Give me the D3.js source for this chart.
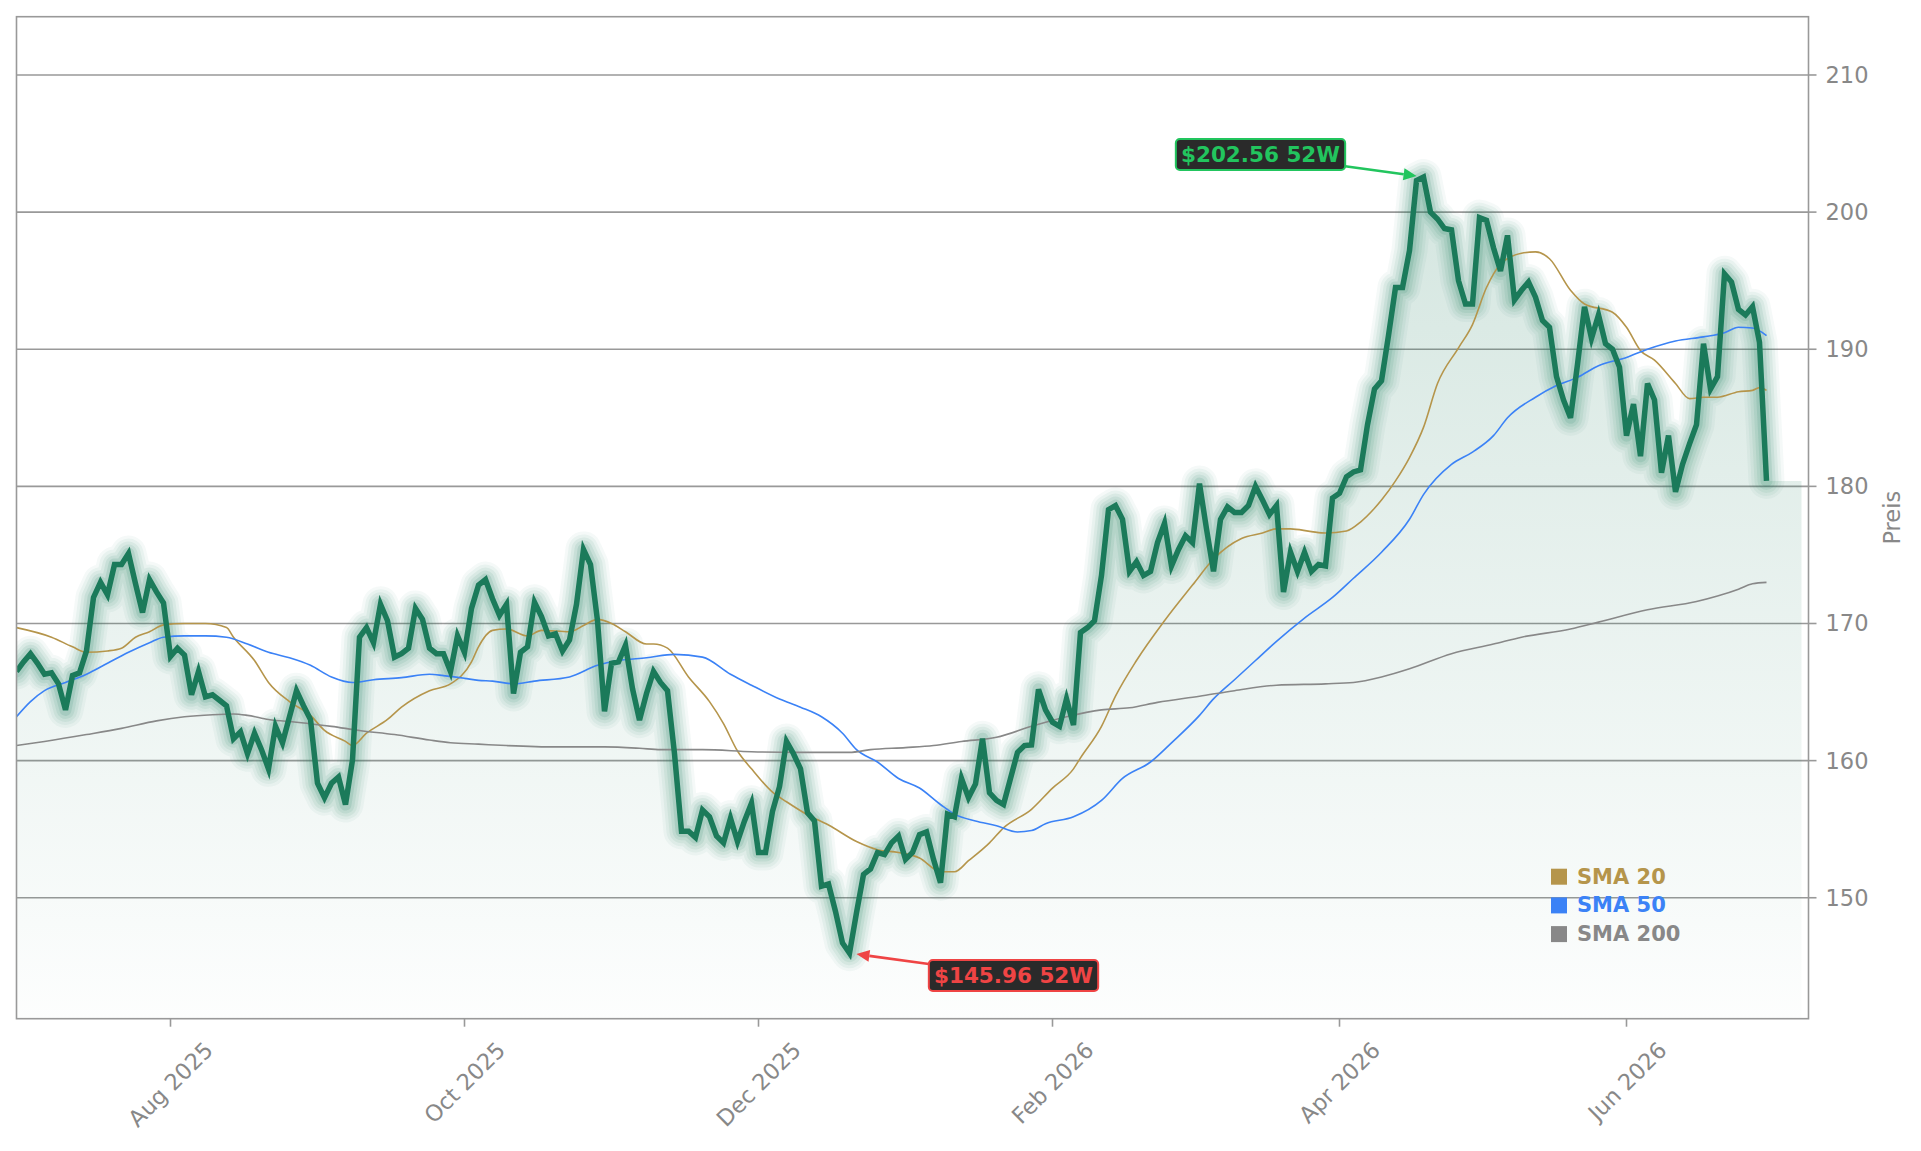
<!DOCTYPE html>
<html>
<head>
<meta charset="utf-8">
<script src="https://cdn.jsdelivr.net/npm/d3@7"></script>
<style>
  html, body { margin: 0; padding: 0; background: #fff; }
  svg { display: block; font-family: "DejaVu Sans", sans-serif; }
</style>
</head>
<body>
<div id="chart"></div>
<script>
// trading calendar
const firstDay = "2025-07-01", lastDay = "2026-06-30";
const holidays = ["2025-07-04", "2025-09-01", "2025-11-27", "2025-12-25", "2026-01-01",
                  "2026-01-19", "2026-02-16", "2026-04-03", "2026-05-25", "2026-06-19"];

// daily close, one value per trading day
const closes = [
  166.5, 167.2, 167.8, 167.1, 166.3, 166.4, 165.6, 163.7, 166.2, 166.4,
  168.0, 171.9, 173.0, 172.1, 174.3, 174.3, 175.1, 172.9, 170.8, 173.2,
  172.3, 171.5, 167.6, 168.2, 167.7, 164.8, 166.5, 164.65, 164.8, 164.4,
  164.0, 161.6, 162.1, 160.5, 162.0, 160.8, 159.4, 162.5, 161.3, 163.2,
  165.1, 164.0, 163.0, 158.35, 157.3, 158.35, 158.8, 156.8, 160.05, 169.0,
  169.7, 168.6, 171.4, 170.2, 167.55, 167.8, 168.2, 171.1, 170.3, 168.2,
  167.8, 167.8, 166.5, 169.1, 167.9, 171.1, 172.8, 173.2, 171.8, 170.6,
  171.4, 164.9, 167.9, 168.3, 171.55, 170.5, 169.1, 169.25, 168.0, 168.8,
  171.4, 175.4, 174.3, 170.2, 163.6, 167.1, 167.2, 168.4, 165.25, 162.95,
  164.9, 166.5, 165.7, 165.1, 160.5, 154.85, 154.85, 154.4, 156.4, 155.9,
  154.5, 154.0, 155.8, 154.1, 155.6, 156.9, 153.3, 153.3, 156.3, 158.1,
  161.4, 160.5, 159.4, 156.2, 155.6, 150.85, 151.0, 149.0, 146.7, 145.96,
  148.9, 151.7, 152.1, 153.3, 153.15, 154.0, 154.5, 152.8, 153.3, 154.6,
  154.8, 152.8, 151.1, 156.1, 155.9, 158.7, 157.3, 158.3, 161.6, 157.65,
  157.1, 156.8, 158.7, 160.6, 161.1, 161.15, 165.2, 163.7, 162.8, 162.5,
  164.5, 162.6, 169.35, 169.7, 170.2, 173.5, 178.3, 178.6, 177.6, 173.8,
  174.5, 173.5, 173.8, 175.9, 177.3, 174.2, 175.4, 176.4, 175.9, 180.2,
  176.9, 173.8, 177.6, 178.5, 178.1, 178.1, 178.6, 180.0, 179.0, 177.95,
  178.6, 172.3, 175.2, 173.8, 175.2, 173.8, 174.3, 174.2, 179.15, 179.5,
  180.7, 181.05, 181.2, 184.5, 187.1, 187.7, 191.0, 194.5, 194.5, 197.2,
  202.3, 202.56, 200.0, 199.5, 198.8, 198.7, 195.0, 193.3, 193.3, 199.6,
  199.4, 197.4, 195.7, 198.3, 193.6, 194.3, 194.9, 193.8, 192.1, 191.6,
  188.0, 186.3, 185.0, 188.9, 193.1, 190.8, 192.5, 190.4, 190.0, 188.7,
  183.7, 186.0, 182.2, 187.5, 186.3, 181.0, 183.7, 179.6, 181.6, 183.1,
  184.5, 190.4, 187.1, 188.0, 195.5, 194.9, 192.9, 192.5, 193.1, 190.5,
  180.4
];

// moving averages, sampled along the line
const sma20 = [
  ["2025-07-01", 169.7], ["2025-07-09", 169.0], ["2025-07-14", 168.3], ["2025-07-16", 167.9],
  ["2025-07-21", 168.0], ["2025-07-23", 168.2], ["2025-07-25", 169.0], ["2025-07-29", 169.4],
  ["2025-07-31", 169.9], ["2025-08-05", 170.0], ["2025-08-08", 170.0], ["2025-08-13", 169.7],
  ["2025-08-14", 169.0], ["2025-08-19", 167.3], ["2025-08-21", 165.7], ["2025-08-26", 164.3],
  ["2025-08-29", 163.3], ["2025-09-03", 162.2], ["2025-09-08", 161.4], ["2025-09-09", 161.1],
  ["2025-09-11", 162.0], ["2025-09-16", 163.0], ["2025-09-18", 163.9], ["2025-09-24", 165.1],
  ["2025-09-29", 165.6], ["2025-10-02", 167.2], ["2025-10-03", 168.3], ["2025-10-07", 169.5],
  ["2025-10-09", 169.6], ["2025-10-14", 169.1], ["2025-10-16", 169.5], ["2025-10-22", 169.4],
  ["2025-10-24", 169.85], ["2025-10-28", 170.3], ["2025-10-30", 170.0], ["2025-11-03", 169.4],
  ["2025-11-06", 168.5], ["2025-11-07", 168.5], ["2025-11-11", 168.2], ["2025-11-14", 166.1],
  ["2025-11-19", 164.3], ["2025-11-21", 162.7], ["2025-11-25", 160.7], ["2025-11-28", 159.4],
  ["2025-12-03", 157.7], ["2025-12-05", 157.0], ["2025-12-10", 156.05], ["2025-12-15", 155.3],
  ["2025-12-19", 154.1], ["2025-12-24", 153.5], ["2025-12-30", 153.3], ["2026-01-05", 152.9],
  ["2026-01-08", 151.9], ["2026-01-12", 151.9], ["2026-01-14", 152.7], ["2026-01-20", 154.0],
  ["2026-01-22", 155.1], ["2026-01-28", 156.45], ["2026-02-02", 158.0], ["2026-02-05", 159.4],
  ["2026-02-06", 160.2], ["2026-02-11", 162.5], ["2026-02-13", 164.7], ["2026-02-19", 167.3],
  ["2026-02-25", 170.2], ["2026-03-03", 172.8], ["2026-03-06", 174.7], ["2026-03-12", 176.2],
  ["2026-03-17", 176.6], ["2026-03-19", 176.9], ["2026-03-23", 176.9], ["2026-03-26", 176.7],
  ["2026-03-30", 176.6], ["2026-04-02", 176.75], ["2026-04-07", 177.4], ["2026-04-09", 178.4],
  ["2026-04-10", 179.0], ["2026-04-14", 180.4], ["2026-04-16", 182.1], ["2026-04-20", 184.3],
  ["2026-04-22", 187.5], ["2026-04-27", 190.1], ["2026-04-29", 191.8], ["2026-05-01", 194.5],
  ["2026-05-05", 196.2], ["2026-05-08", 197.0], ["2026-05-12", 197.1], ["2026-05-14", 196.6],
  ["2026-05-19", 194.3], ["2026-05-21", 193.3], ["2026-05-28", 192.7], ["2026-06-01", 191.6],
  ["2026-06-03", 189.9], ["2026-06-05", 189.2], ["2026-06-10", 187.5], ["2026-06-12", 186.4],
  ["2026-06-16", 186.5], ["2026-06-18", 186.5], ["2026-06-24", 186.9], ["2026-06-26", 187.0],
  ["2026-06-29", 187.2], ["2026-06-30", 187.0]
];
const sma50 = [
  ["2025-07-01", 163.2], ["2025-07-03", 164.3], ["2025-07-08", 165.1], ["2025-07-11", 165.7],
  ["2025-07-16", 166.3], ["2025-07-21", 167.1], ["2025-07-24", 167.9], ["2025-07-29", 168.6],
  ["2025-07-31", 169.0], ["2025-08-05", 169.1], ["2025-08-08", 169.1], ["2025-08-13", 169.0],
  ["2025-08-18", 168.5], ["2025-08-21", 167.9], ["2025-08-26", 167.5], ["2025-08-29", 166.95],
  ["2025-09-04", 166.1], ["2025-09-09", 165.7], ["2025-09-12", 165.9], ["2025-09-18", 166.05],
  ["2025-09-24", 166.3], ["2025-09-26", 166.2], ["2025-10-01", 166.0], ["2025-10-03", 165.85],
  ["2025-10-07", 165.8], ["2025-10-10", 165.6], ["2025-10-15", 165.8], ["2025-10-22", 166.1],
  ["2025-10-28", 166.95], ["2025-10-31", 167.3], ["2025-11-06", 167.5], ["2025-11-12", 167.75],
  ["2025-11-18", 167.55], ["2025-11-24", 166.3], ["2025-11-28", 165.5], ["2025-12-04", 164.5],
  ["2025-12-09", 163.9], ["2025-12-12", 163.2], ["2025-12-17", 162.0], ["2025-12-19", 160.8],
  ["2025-12-24", 159.9], ["2025-12-30", 158.7], ["2026-01-05", 158.0], ["2026-01-08", 156.8],
  ["2026-01-12", 156.1], ["2026-01-15", 155.6], ["2026-01-21", 155.25], ["2026-01-26", 154.8],
  ["2026-01-28", 154.9], ["2026-01-30", 155.4], ["2026-02-05", 155.9], ["2026-02-11", 157.1],
  ["2026-02-17", 158.7], ["2026-02-23", 159.9], ["2026-02-26", 161.3], ["2026-03-04", 163.3],
  ["2026-03-06", 164.5], ["2026-03-11", 165.9], ["2026-03-16", 167.3], ["2026-03-19", 168.7],
  ["2026-03-25", 170.4], ["2026-03-31", 171.9], ["2026-04-06", 173.3], ["2026-04-10", 175.2],
  ["2026-04-16", 177.6], ["2026-04-20", 179.4], ["2026-04-24", 181.6], ["2026-04-29", 182.5],
  ["2026-05-04", 183.7], ["2026-05-06", 185.0], ["2026-05-12", 186.5], ["2026-05-15", 187.35],
  ["2026-05-20", 187.95], ["2026-05-26", 188.8], ["2026-06-01", 189.4], ["2026-06-04", 190.0],
  ["2026-06-10", 190.6], ["2026-06-16", 190.9], ["2026-06-22", 191.2], ["2026-06-24", 191.6],
  ["2026-06-26", 191.55], ["2026-06-30", 191.0]
];
const sma200 = [
  ["2025-07-01", 161.1], ["2025-07-08", 161.4], ["2025-07-16", 161.9], ["2025-07-23", 162.35],
  ["2025-07-30", 162.9], ["2025-08-05", 163.2], ["2025-08-11", 163.35], ["2025-08-14", 163.4],
  ["2025-08-18", 163.3], ["2025-08-21", 163.0], ["2025-08-27", 162.8], ["2025-09-04", 162.5],
  ["2025-09-10", 162.2], ["2025-09-17", 161.9], ["2025-09-24", 161.5], ["2025-09-29", 161.3],
  ["2025-10-03", 161.2], ["2025-10-09", 161.1], ["2025-10-20", 161.0], ["2025-10-29", 161.0],
  ["2025-11-05", 160.9], ["2025-11-10", 160.8], ["2025-11-18", 160.8], ["2025-11-28", 160.65],
  ["2025-12-09", 160.6], ["2025-12-18", 160.6], ["2025-12-23", 160.8], ["2025-12-31", 160.95],
  ["2026-01-07", 161.1], ["2026-01-13", 161.4], ["2026-01-21", 161.7], ["2026-01-28", 162.5],
  ["2026-02-04", 163.2], ["2026-02-11", 163.7], ["2026-02-18", 163.85], ["2026-02-24", 164.25],
  ["2026-03-04", 164.7], ["2026-03-11", 165.1], ["2026-03-19", 165.5], ["2026-03-30", 165.6],
  ["2026-04-06", 165.7], ["2026-04-10", 166.1], ["2026-04-16", 166.7], ["2026-04-24", 167.8],
  ["2026-05-04", 168.5], ["2026-05-08", 169.0], ["2026-05-19", 169.6], ["2026-05-26", 170.1],
  ["2026-06-04", 171.0], ["2026-06-15", 171.6], ["2026-06-18", 172.0], ["2026-06-24", 172.5],
  ["2026-06-26", 172.9], ["2026-06-30", 173.0]
];

const yTicks = [150, 160, 170, 180, 190, 200, 210];
const xTickLabels = ["Aug 2025", "Oct 2025", "Dec 2025", "Feb 2026", "Apr 2026", "Jun 2026"];
const legendNames = ["SMA 20", "SMA 50", "SMA 200"];
const legendColors = ["#b5954b", "#3b82f6", "#888888"];

const W = 1921, H = 1151;
const plot = { left: 16.5, right: 1808.5, top: 16.7, bottom: 1018.7 };
const gray = "#999999", textGray = "#888888", green = "#1b7a5a";

const parse = d3.utcParse("%Y-%m-%d"), fmt = d3.utcFormat("%Y-%m-%d"), fmtMonth = d3.utcFormat("%b %Y");
const days = d3.utcDays(parse(firstDay), d3.utcDay.offset(parse(lastDay), 1))
  .filter(d => d.getUTCDay() % 6 !== 0 && !holidays.includes(fmt(d)));
const dayTimes = days.map(d => +d);
const dayIndex = s => d3.bisectLeft(dayTimes, +parse(s));
if (days.length !== closes.length) console.warn("calendar/closes mismatch", days.length, closes.length);

const x = d3.scaleLinear().domain([0, 256]).range([plot.left, plot.right]);
const y = d3.scaleLinear().domain([141.18, 214.25]).range([plot.bottom, plot.top]);

const svg = d3.select("#chart").append("svg").attr("width", W).attr("height", H);
svg.append("rect").attr("width", W).attr("height", H).attr("fill", "#fff");

svg.append("defs").append("clipPath").attr("id", "plotclip")
  .append("rect").attr("x", plot.left).attr("y", plot.top)
  .attr("width", plot.right - plot.left).attr("height", plot.bottom - plot.top);

// gridlines (under the fill)
svg.append("g").selectAll("line").data(yTicks).join("line")
  .attr("x1", plot.left).attr("x2", plot.right)
  .attr("y1", d => y(d)).attr("y2", d => y(d))
  .attr("stroke", gray).attr("stroke-width", 1.6);

const pts = closes.map((v, i) => ({ i, v }));
const iMax = d3.maxIndex(closes), iMin = d3.minIndex(closes);

// gradient fill under the price
const grad = svg.select("defs").append("linearGradient").attr("id", "fillgrad")
  .attr("gradientUnits", "userSpaceOnUse")
  .attr("x1", 0).attr("x2", 0).attr("y1", y(closes[iMax])).attr("y2", plot.bottom);
grad.append("stop").attr("offset", 0).attr("stop-color", green).attr("stop-opacity", 0.19);
grad.append("stop").attr("offset", 1).attr("stop-color", green).attr("stop-opacity", 0.01);

const areaPts = pts.concat([{ i: closes.length - 1 + 5, v: closes[closes.length - 1] }]);
const area = d3.area().x(d => x(d.i)).y0(plot.bottom).y1(d => y(d.v));
const gPlot = svg.append("g").attr("clip-path", "url(#plotclip)");
gPlot.append("path").datum(areaPts).attr("d", area).attr("fill", "url(#fillgrad)");

// glow around the price line
const line = d3.line().x(d => x(d.i)).y(d => y(d.v));
const glow = [[36, 0.045], [30, 0.055], [24, 0.07], [18, 0.085], [12, 0.12]];
glow.forEach(([w, o]) => {
  gPlot.append("path").datum(pts).attr("d", line)
    .attr("fill", "none").attr("stroke", green).attr("stroke-opacity", o)
    .attr("stroke-width", w).attr("stroke-linejoin", "round").attr("stroke-linecap", "round");
});

// moving averages
const smaLine = d3.line().curve(d3.curveMonotoneX).x(d => x(dayIndex(d[0]))).y(d => y(d[1]));
[sma20, sma50, sma200].forEach((s, k) => {
  gPlot.append("path").datum(s).attr("d", smaLine)
    .attr("fill", "none").attr("stroke", legendColors[k]).attr("stroke-width", 1.6);
});

// price line
gPlot.append("path").datum(pts).attr("d", line)
  .attr("fill", "none").attr("stroke", green).attr("stroke-width", 5.5)
  .attr("stroke-linejoin", "miter").attr("stroke-miterlimit", 4);

// frame
svg.append("rect").attr("x", plot.left).attr("y", plot.top)
  .attr("width", plot.right - plot.left).attr("height", plot.bottom - plot.top)
  .attr("fill", "none").attr("stroke", gray).attr("stroke-width", 1.6);

// right y axis
const gy = svg.append("g");
yTicks.forEach(t => {
  gy.append("line").attr("x1", plot.right).attr("x2", plot.right + 8)
    .attr("y1", y(t)).attr("y2", y(t)).attr("stroke", gray).attr("stroke-width", 1.6);
  gy.append("text").attr("x", plot.right + 17).attr("y", y(t))
    .attr("dominant-baseline", "central").attr("font-size", 22.5).attr("fill", textGray).text(t);
});
svg.append("text").attr("transform", `translate(1892,${(plot.top + plot.bottom) / 2}) rotate(-90)`)
  .attr("text-anchor", "middle").attr("dominant-baseline", "central")
  .attr("font-size", 22.5).attr("fill", textGray).text("Preis");

// bottom x axis, first trading day of each labelled month
const gx = svg.append("g");
xTickLabels.forEach(lbl => {
  const i = days.findIndex(d => fmtMonth(d) === lbl);
  const tx = x(i);
  gx.append("line").attr("x1", tx).attr("x2", tx).attr("y1", plot.bottom).attr("y2", plot.bottom + 8)
    .attr("stroke", gray).attr("stroke-width", 1.6);
  const g = gx.append("g");
  g.append("text").attr("transform", "rotate(-45)").attr("text-anchor", "middle")
    .attr("dominant-baseline", "central").attr("font-size", 22.5).attr("fill", textGray).text(lbl);
  const bb = g.node().getBBox();
  g.attr("transform", `translate(${tx - (bb.x + bb.width / 2)},${plot.bottom + 18 - bb.y})`);
});

// 52 week high / low annotations
function annotate(i, dx, dy, color) {
  const px = x(i), py = y(closes[i]);
  const cx = px + dx, cy = py + dy;
  const g = svg.append("g");
  const rect = g.append("rect");
  const txt = g.append("text").attr("x", cx).attr("y", cy)
    .attr("text-anchor", "middle").attr("dominant-baseline", "central")
    .attr("font-size", 21.5).attr("font-weight", "bold").attr("fill", color)
    .text("$" + closes[i].toFixed(2) + " 52W");
  const bb = txt.node().getBBox();
  const hw = bb.width / 2 + 5, hh = bb.height / 2 + 3;
  rect.attr("x", cx - hw).attr("y", cy - hh).attr("width", hw * 2).attr("height", hh * 2)
    .attr("rx", 4).attr("fill", "#2a2a2a").attr("stroke", color).attr("stroke-width", 2);
  txt.raise();
  const vx = px - cx, vy = py - cy, len = Math.hypot(vx, vy);
  const ux = vx / len, uy = vy / len;
  const t = Math.min(hw / Math.abs(vx), hh / Math.abs(vy));
  const sx = cx + vx * t, sy = cy + vy * t;
  const ex = px - ux * 7, ey = py - uy * 7;
  const hl = 13, hwid = 6;
  const bx = ex - ux * hl, by = ey - uy * hl;
  g.append("line").attr("x1", sx).attr("y1", sy).attr("x2", bx).attr("y2", by)
    .attr("stroke", color).attr("stroke-width", 2.6);
  g.append("path")
    .attr("d", `M${ex},${ey} L${bx - uy * hwid},${by + ux * hwid} L${bx + uy * hwid},${by - ux * hwid} Z`)
    .attr("fill", color);
}
annotate(iMax, -163, -22.5, "#22c55e");
annotate(iMin, 164, 22.4, "#ef4444");

// legend
const gl = svg.append("g");
legendNames.forEach((n, k) => {
  const cy = 876.7 + k * 28.7;
  gl.append("rect").attr("x", 1551).attr("y", cy - 8).attr("width", 16).attr("height", 16)
    .attr("fill", legendColors[k]);
  gl.append("text").attr("x", 1577).attr("y", cy).attr("dominant-baseline", "central")
    .attr("font-size", 21).attr("font-weight", "bold").attr("fill", legendColors[k]).text(n);
});
</script>
</body>
</html>
